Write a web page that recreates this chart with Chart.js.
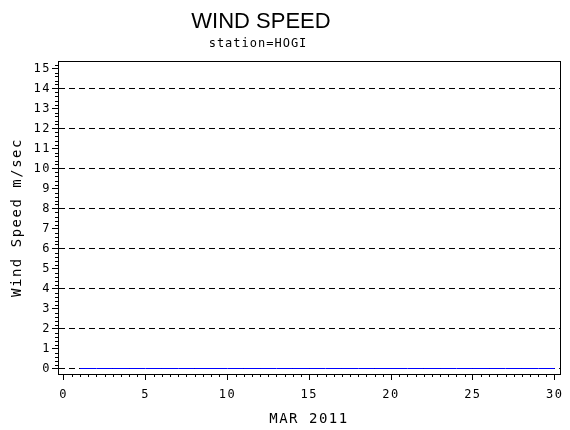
<!DOCTYPE html>
<html lang="en">
<head>
<meta charset="UTF-8">
<title>Wind Speed - HOGI</title>
<script src="https://cdn.jsdelivr.net/npm/chart.js@4.4.0/dist/chart.umd.min.js"></script>
<style>
  html, body { margin: 0; padding: 0; background: #fff; }
  #wrap { width: 570px; height: 430px; }
</style>
</head>
<body>
<div id="wrap"><canvas id="windChart"></canvas></div>
<script>
// daily wind speed, March 2011, station HOGI
const days = [1, 2, 3, 4, 5, 6, 7, 8, 9, 10, 11, 12, 13, 14, 15,
              16, 17, 18, 19, 20, 21, 22, 23, 24, 25, 26, 27, 28, 29, 30];
const windSpeed = [0, 0, 0, 0, 0, 0, 0, 0, 0, 0, 0, 0, 0, 0, 0,
                   0, 0, 0, 0, 0, 0, 0, 0, 0, 0, 0, 0, 0, 0, 0];
const xTickValues = [0, 5, 10, 15, 20, 25, 30];
const yTickValues = [0, 1, 2, 3, 4, 5, 6, 7, 8, 9, 10, 11, 12, 13, 14, 15];
const yGridValues = [0, 2, 4, 6, 8, 10, 12, 14];

const MONO = '"DejaVu Sans Mono", monospace';
const px = v => Math.round(v) + 0.5;

// titles, frame and the small in-between tick marks
const sasLook = {
    id: 'sasLook',
    beforeDraw(chart) {
        chart.ctx.letterSpacing = '1.5px';
    },
    afterDraw(chart) {
        const ctx = chart.ctx;
        const area = chart.chartArea;
        const xs = chart.scales.x, ys = chart.scales.y;
        ctx.save();
        ctx.strokeStyle = '#000';
        ctx.lineWidth = 1;
        ctx.setLineDash([]);
        ctx.strokeRect(px(area.left), px(area.top), Math.round(area.right) - Math.round(area.left), Math.round(area.bottom) - Math.round(area.top));

        ctx.beginPath();
        for (let v = 0.5; v < 30; v += 0.5) {
            if (v % 5 === 0) continue;
            const x = px(xs.getPixelForValue(v));
            ctx.moveTo(x, area.bottom);
            ctx.lineTo(x, area.bottom + 3);
        }
        for (let i = 1; i <= 76; i++) {
            if (i % 5 === 0) continue;
            const y = px(ys.getPixelForValue(i * 0.2));
            ctx.moveTo(area.left - 3, y);
            ctx.lineTo(area.left, y);
        }
        ctx.stroke();

        ctx.fillStyle = '#000';
        ctx.textAlign = 'center';
        ctx.textBaseline = 'alphabetic';
        ctx.letterSpacing = '0px';
        ctx.font = '22px "Liberation Sans", sans-serif';
        ctx.fillText('WIND SPEED', 261, 28);
        ctx.letterSpacing = '1px';
        ctx.font = '12px ' + MONO;
        ctx.fillText('station=HOGI', 258, 47);
        ctx.restore();
    }
};

new Chart(document.getElementById('windChart'), {
    type: 'line',
    data: {
        datasets: [{
            data: days.map((d, i) => ({ x: d, y: windSpeed[i] })),
            borderColor: '#0000ff',
            borderWidth: 1,
            pointRadius: 0,
            tension: 0,
            fill: false
        }]
    },
    options: {
        responsive: true,
        maintainAspectRatio: false,
        animation: false,
        layout: { padding: { top: 61, right: 9, left: 0, bottom: 0 } },
        plugins: { legend: { display: false }, tooltip: { enabled: false } },
        scales: {
            x: {
                type: 'linear',
                min: -0.35,
                max: 30.32,
                afterBuildTicks: s => { s.ticks = xTickValues.map(v => ({ value: v })); },
                afterFit: s => { s.height = 56; },
                ticks: { font: { family: MONO, size: 12 }, color: '#000', padding: 8, maxRotation: 0, autoSkip: false },
                grid: { drawOnChartArea: false, tickLength: 6, tickColor: '#000', color: '#000' },
                border: { color: '#000', width: 1 },
                title: { display: true, text: 'MAR 2011', color: '#000', font: { family: MONO, size: 14 }, padding: { top: 0, bottom: 2 } }
            },
            y: {
                type: 'linear',
                min: -0.275,
                max: 15.375,
                afterBuildTicks: s => { s.ticks = yTickValues.map(v => ({ value: v })); },
                afterFit: s => { s.width = 58; },
                ticks: { font: { family: MONO, size: 12 }, color: '#000', padding: 1, autoSkip: false },
                grid: {
                    color: c => (c.tick && yGridValues.includes(c.tick.value)) ? '#000' : 'rgba(0,0,0,0)',
                    tickColor: '#000',
                    tickLength: 6,
                    lineWidth: 1
                },
                border: { color: '#000', width: 1, dash: [6, 4] },
                title: { display: true, text: 'Wind Speed m/sec', color: '#000', font: { family: MONO, size: 14 }, padding: { top: 9, bottom: 0 } }
            }
        }
    },
    plugins: [sasLook]
});
</script>
</body>
</html>
